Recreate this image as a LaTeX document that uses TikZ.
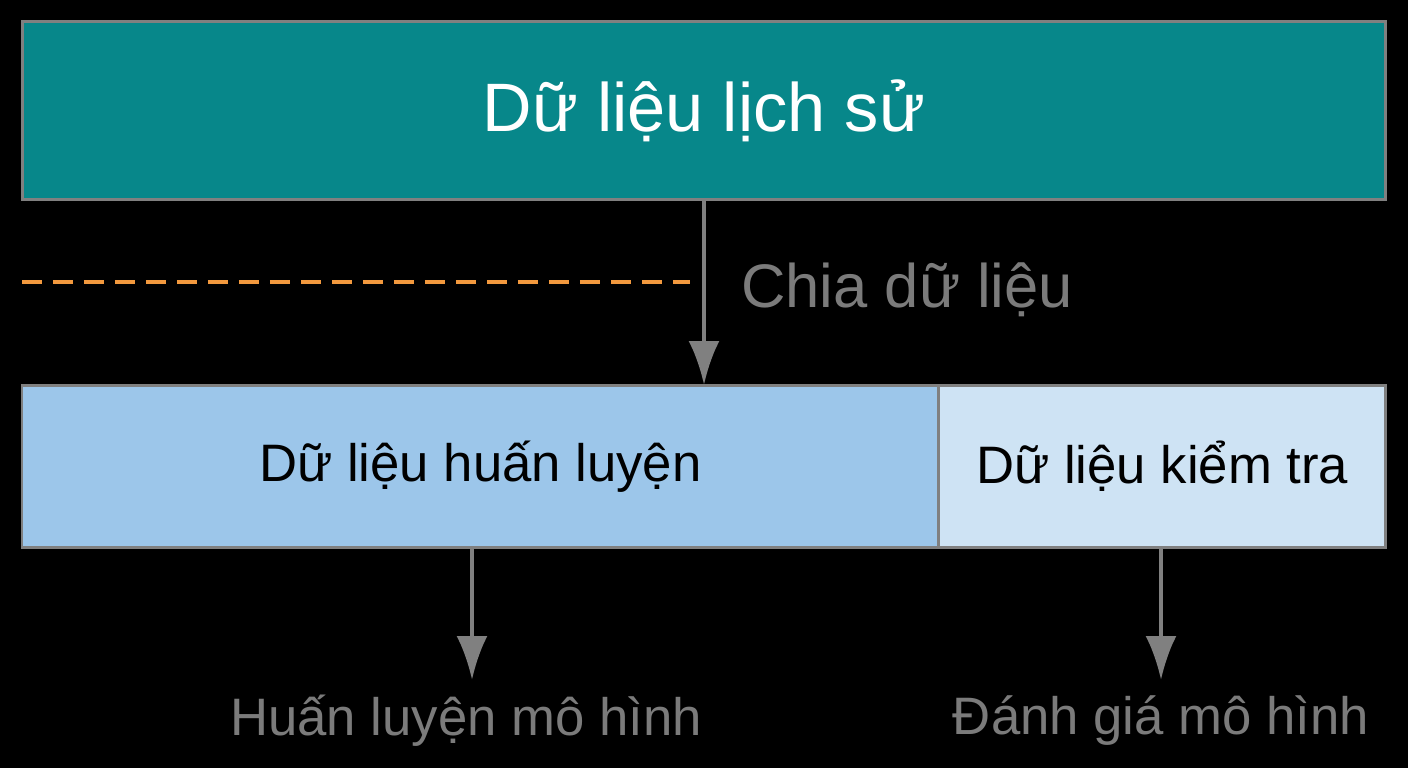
\documentclass[tikz,border=0pt]{standalone}
\usepackage{fontspec}
\setmainfont{Liberation Sans}
\usepackage{tikz}
\usetikzlibrary{arrows.meta,positioning}
\usepackage{xcolor}
\definecolor{histteal}{HTML}{07878A}
\definecolor{trainblue}{HTML}{9CC6EA}
\definecolor{testblue}{HTML}{CEE3F4}
\definecolor{edgegray}{HTML}{808080}
\definecolor{splitorange}{HTML}{F2993E}
\definecolor{notegray}{HTML}{7B7B7B}

\begin{document}
\begin{tikzpicture}[x=0.02cm, y=-0.02cm, >={Latex[length=0.88cm,width=0.62cm]},
  block/.style={draw=edgegray, line width=1.7pt, inner sep=0pt, outer sep=0pt},
  note/.style={text=notegray, inner sep=0pt, font=\fontsize{30}{36}\selectfont},
  flow/.style={->, edgegray, line width=2.5pt}]
  \fill[black] (0,0) rectangle (1408,768);
  \useasboundingbox (0,0) rectangle (1408,768);
  \node[block, fill=histteal, text=white, minimum width=27.28cm, minimum height=3.58cm,
    font=\fontsize{39}{46}\selectfont] (hist) at (704,110.5) {Dữ liệu lịch sử};
  \node[block, fill=trainblue, minimum width=18.34cm, minimum height=3.26cm, anchor=north west,
    font=\fontsize{30}{36}\selectfont] (train) at (22,385) {Dữ liệu huấn luyện};
  \node[block, fill=testblue, minimum width=8.94cm, minimum height=3.26cm, right=0pt of train,
    font=\fontsize{30}{36}\selectfont] (test) {Dữ liệu kiểm tra};
  \coordinate (dashL) at (22,282);
  \coordinate (dashR) at (690,282);
  \draw[splitorange, line width=2.8pt, dash pattern=on 0.4cm off 0.22cm] (dashL) -- (dashR);
  \node[note, anchor=base west, font=\fontsize{35}{42}\selectfont] (split) at (741,307) {Chia dữ liệu};
  \draw[flow] (hist.south) -- (hist.south |- train.north);
  \coordinate (traintip) at (472,680);
  \coordinate (testtip) at (1161,680);
  \draw[flow] (train.south -| traintip) -- (traintip);
  \draw[flow] (test.south -| testtip) -- (testtip);
  \node[note, anchor=base] (fitlbl) at (466,735) {Huấn luyện mô hình};
  \node[note, anchor=base] (evallbl) at (1161,734) {Đánh giá mô hình};
\end{tikzpicture}
\end{document}
